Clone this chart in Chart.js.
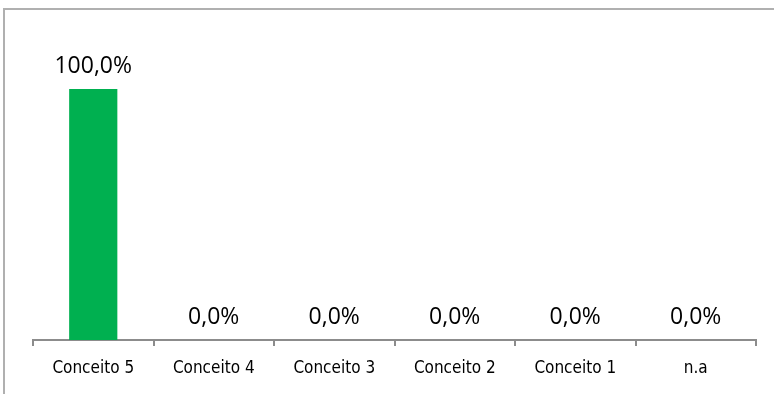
<!DOCTYPE html>
<html>
<head>
<meta charset="utf-8">
<script src="https://cdn.jsdelivr.net/npm/chart.js@4/dist/chart.umd.min.js"></script>
<style>
  html, body { margin: 0; padding: 0; background: #fff; overflow: hidden; width: 774px; height: 394px; }
  #frame { position: absolute; left: 3px; top: 8px; width: 800px; height: 420px; border: 2px solid #b0b0b0; box-sizing: border-box; }
  #grafico { position: absolute; left: 0; top: 0; }
</style>
</head>
<body>
<div id="frame"></div>
<canvas id="grafico" width="774" height="394"></canvas>
<script>
// dados do gráfico
const categorias = ['Conceito 5', 'Conceito 4', 'Conceito 3', 'Conceito 2', 'Conceito 1', 'n.a'];
const percentuais = [100, 0, 0, 0, 0, 0];

// rótulos de valor acima das barras
const rotulosValor = {
  id: 'rotulosValor',
  afterDatasetsDraw(chart) {
    const ctx = chart.ctx;
    const meta = chart.getDatasetMeta(0);
    ctx.save();
    ctx.fillStyle = '#000';
    ctx.font = '23px "Open Sans", sans-serif';
    ctx.textAlign = 'center';
    ctx.textBaseline = 'alphabetic';
    meta.data.forEach((bar, i) => {
      const txt = percentuais[i].toFixed(1).replace('.', ',') + '%';
      ctx.fillText(txt, bar.x, bar.y - 16);
    });
    ctx.restore();
  }
};

const ctx = document.getElementById('grafico').getContext('2d');
new Chart(ctx, {
  type: 'bar',
  data: {
    labels: categorias,
    datasets: [{
      data: percentuais,
      backgroundColor: '#00b050',
      barPercentage: 0.4,
      categoryPercentage: 1
    }]
  },
  options: {
    responsive: false,
    animation: false,
    layout: { padding: { left: 33, right: 18, top: 89, bottom: 0 } },
    plugins: { legend: { display: false }, tooltip: { enabled: false } },
    scales: {
      x: {
        afterFit(scale) { scale.height = 54; },
        grid: { drawOnChartArea: false, drawTicks: true, tickLength: 6, color: '#8c8c8c', lineWidth: 2 },
        border: { color: '#8c8c8c', width: 2 },
        ticks: {
          color: '#000',
          padding: 12,
          font: { family: '"DejaVu Sans Condensed", sans-serif', size: 17 }
        }
      },
      y: {
        display: false,
        min: 0,
        max: 100
      }
    }
  },
  plugins: [rotulosValor]
});
</script>
</body>
</html>
